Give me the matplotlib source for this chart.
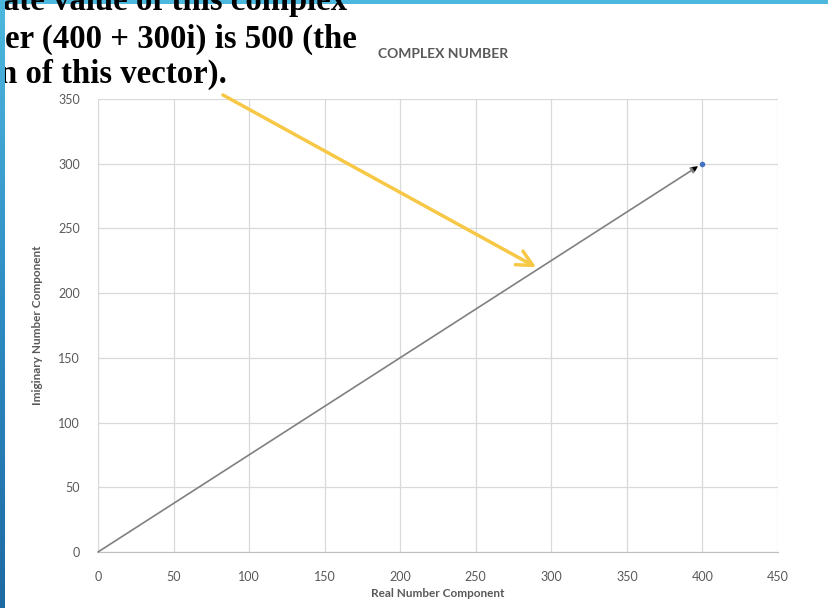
import numpy as np
import matplotlib
matplotlib.use("Agg")
import matplotlib.pyplot as plt
from matplotlib.colors import LinearSegmentedColormap

# ---- data ----
real_part = [0, 400]
imag_part = [0, 300]
x_ticks = [0, 50, 100, 150, 200, 250, 300, 350, 400, 450]
y_ticks = [0, 50, 100, 150, 200, 250, 300, 350]
title = "COMPLEX NUMBER"
x_label = "Real Number Component"
y_label = "Imiginary Number Component"
slide_lines = ["ate value of this complex",
               "er (400 + 300i) is 500 (the",
               "n of this vector)."]
annot_point = (290, 220)

W, H = 829, 608
fig = plt.figure(figsize=(W / 100, H / 100), dpi=100)
fig.patch.set_facecolor("white")

def fx(px):
    return px / W

def fy(py):
    return 1 - py / H

# slide text
serif = ["Liberation Serif", "DejaVu Serif"]
lefts = [3, 5, -1]
bases = [10, 48, 83]
for t, l, b in zip(slide_lines, lefts, bases):
    fig.text(fx(l), fy(b), t, ha="left", va="baseline", fontsize=23.6,
             fontweight="bold", family=serif, color="black", zorder=1)

# blue slide decorations
cmap = LinearSegmentedColormap.from_list("b", ["#4DB8DE", "#2E8CC4", "#1E6AA3"])
bar = fig.add_axes([0, 0, fx(5), 1], zorder=5)
bar.imshow(np.linspace(0, 1, 256).reshape(-1, 1), aspect="auto", cmap=cmap)
bar.axis("off")
top = fig.add_axes([0, fy(4), 1, 4 / H], zorder=0)
top.set_facecolor("#4DB8DE")
top.set_xticks([]); top.set_yticks([])
for s in top.spines.values():
    s.set_visible(False)

# chart
ax = fig.add_axes([fx(98), fy(552), fx(778) - fx(98), (552 - 99) / H], zorder=2)
ax.set_facecolor("none")
ax.set_xlim(0, 450)
ax.set_ylim(0, 350)
ax.set_xticks(x_ticks)
ax.set_yticks(y_ticks)
ax.grid(True, color="#d9d9d9", lw=0.9)
ax.set_axisbelow(True)
for k in ["top", "right"]:
    ax.spines[k].set_visible(False)
ax.spines["left"].set_color("#d9d9d9")
ax.spines["bottom"].set_color("#bfbfbf")
ax.tick_params(length=0, labelsize=9, labelcolor="#595959", pad=13)
ax.tick_params(axis="x", pad=14)
for lab in ax.get_xticklabels() + ax.get_yticklabels():
    lab.set_family(["Lato", "DejaVu Sans"])

ax.annotate("", xy=(real_part[1] - 3, imag_part[1] - 2), xytext=(real_part[0], imag_part[0]),
            arrowprops=dict(arrowstyle="-|>", color="#808080", lw=1.2,
                            mutation_scale=10, shrinkA=0, shrinkB=0))
ax.annotate("", xy=(real_part[1] - 3, imag_part[1] - 2), xytext=(real_part[1] - 10, imag_part[1] - 7.5),
            arrowprops=dict(arrowstyle="-|>", color="black", lw=0.01,
                            mutation_scale=10, shrinkA=0, shrinkB=0))
ax.plot(real_part[1:], imag_part[1:], "o", color="#4472C4", ms=3, zorder=5)

ax.set_xlabel(x_label, fontsize=8.5, color="#595959", fontweight="bold",
              family=["Lato", "DejaVu Sans"], labelpad=3)
ax.set_ylabel(y_label, fontsize=8.5, color="#595959", fontweight="bold",
              family=["Lato", "DejaVu Sans"], labelpad=11)

fig.text(fx(443), fy(54), title, ha="center", va="center", fontsize=10,
         fontweight="bold", color="#595959", family=["Lato", "DejaVu Sans"])

# yellow annotation arrow
ax.annotate("", xy=annot_point, xycoords="data",
            xytext=(fx(223), fy(95)), textcoords="figure fraction",
            arrowprops=dict(arrowstyle="->", color="#F7C846", lw=2.5,
                            mutation_scale=28, shrinkA=0, shrinkB=0),
            annotation_clip=False, zorder=6)

fig.savefig("out.png", dpi=100)
